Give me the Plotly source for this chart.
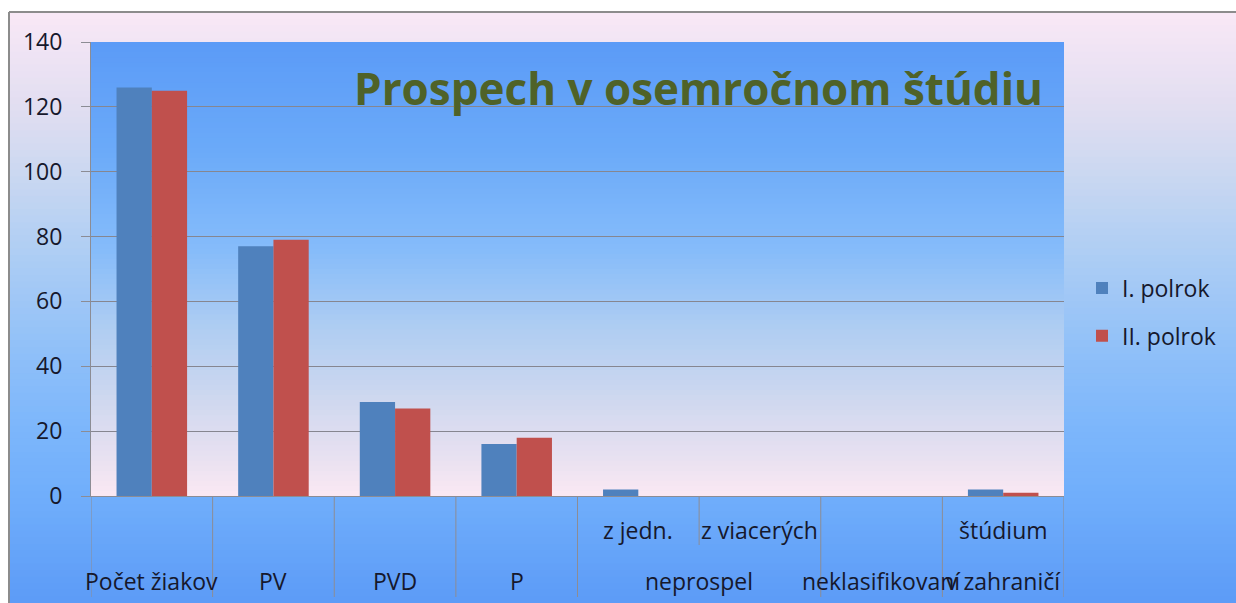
import plotly.graph_objects as go

# ---------------- data ----------------
categories = ["Počet žiakov", "PV", "PVD", "P", "z jedn.", "z viacerých",
              "neklasifikovaní", "štúdium v zahraničí"]
series_names = ["I. polrok", "II. polrok"]
values_I = [126, 77, 29, 16, 2, 0, 0, 2]
values_II = [125, 79, 27, 18, 0, 0, 0, 1]
upper_labels = ["", "", "", "", "z jedn.", "z viacerých", "", "štúdium"]
lower_labels = ["Počet žiakov", "PV", "PVD", "P", "neprospel", "neklasifikovaní", "v zahraničí"]
lower_spans = [(0, 0), (1, 1), (2, 2), (3, 3), (4, 5), (6, 6), (7, 7)]
y_ticks = [0, 20, 40, 60, 80, 100, 120, 140]
title_text = "Prospech v osemročnom štúdiu"

# ---------------- style ----------------
W, H = 1236, 603
PL, PR, PT, PB = 91, 1064, 42, 496      # plot area in page pixels
ML, MR, MT, MB = PL, W - PR, PT, H - PB
FONT = "Open Sans"
TXT = "#16182c"
GRID = "#868690"
AX = "#8C8C94"
C_I = "#4F81BD"
C_II = "#C0504D"

plot_w = W - ML - MR
plot_h = H - MT - MB


def px_x(x):   # page x -> paper x
    return (x - ML) / plot_w


def px_y(y):   # page y -> paper y
    return (H - MB - y) / plot_h


def hex2rgb(h):
    h = h.lstrip("#")
    return tuple(int(h[i:i + 2], 16) for i in (0, 2, 4))


def grad_color(stops, t):
    for (t0, c0), (t1, c1) in zip(stops, stops[1:]):
        if t0 <= t <= t1:
            f = (t - t0) / (t1 - t0) if t1 > t0 else 0
            a, b = hex2rgb(c0), hex2rgb(c1)
            return "rgb(%d,%d,%d)" % tuple(round(a[i] + (b[i] - a[i]) * f) for i in range(3))
    return stops[-1][1]


outer_stops = [(0.0, "#F9E8F6"), (0.157, "#E2DEF1"), (0.267, "#CCD8F1"), (0.377, "#B4D0F3"),
               (0.487, "#9FC7F6"), (0.597, "#8CBEF9"), (0.707, "#7CB6FB"), (0.819, "#70AEFB"),
               (1.0, "#5C9BF7")]
plot_stops = [(0.0, "#5B9BF7"), (0.24, "#6BAAF9"), (0.46, "#86BCFA"), (0.63, "#AFCDF2"),
              (0.79, "#CFD8EF"), (0.92, "#E9E1F1"), (1.0, "#FBE8F3")]

shapes = []
frame_top, frame_left = 12, 9
N = 90
for i in range(N):
    t0, t1 = i / N, (i + 1) / N
    y_top = frame_top + t0 * (H - frame_top)
    y_bot = frame_top + t1 * (H - frame_top) + 1
    shapes.append(dict(type="rect", xref="paper", yref="paper", layer="below",
                       x0=px_x(frame_left), x1=px_x(W + 30),
                       y0=px_y(y_bot), y1=px_y(y_top), line=dict(width=0),
                       fillcolor=grad_color(outer_stops, (t0 + t1) / 2)))

for i in range(N):
    t0, t1 = i / N, (i + 1) / N
    shapes.append(dict(type="rect", xref="x domain", yref="y domain", layer="below",
                       x0=0, x1=1, y0=1 - t1 - 0.002, y1=1 - t0,
                       line=dict(width=0),
                       fillcolor=grad_color(plot_stops, (t0 + t1) / 2)))

shapes.append(dict(type="line", xref="paper", yref="paper", layer="above",
                   x0=px_x(frame_left), x1=px_x(W + 30), y0=px_y(frame_top), y1=px_y(frame_top),
                   line=dict(color="#8C8C8C", width=2)))
shapes.append(dict(type="line", xref="paper", yref="paper", layer="above",
                   x0=px_x(frame_left), x1=px_x(frame_left), y0=px_y(frame_top), y1=px_y(H + 30),
                   line=dict(color="#8C8C8C", width=2)))

sep_full = px_y(597)
sep_half = px_y(545)
sub_group_inner = set()
for lo, hi in lower_spans:
    for k in range(lo, hi):
        sub_group_inner.add(k + 0.5)
for i in range(len(categories) + 1):
    xb = i - 0.5
    yb = sep_half if xb in sub_group_inner else sep_full
    shapes.append(dict(type="line", xref="x", yref="y domain", layer="above",
                       x0=xb, x1=xb, y0=0, y1=yb,
                       line=dict(color=AX, width=1)))

annotations = []
y_up = px_y(530)
y_low = px_y(581)
for i, lab in enumerate(upper_labels):
    if lab:
        annotations.append(dict(x=i, y=y_up, xref="x", yref="y domain", text=lab,
                                showarrow=False, xanchor="center", yanchor="middle",
                                font=dict(family=FONT, size=23, color=TXT)))
for lab, (lo, hi) in zip(lower_labels, lower_spans):
    annotations.append(dict(x=(lo + hi) / 2, y=y_low, xref="x", yref="y domain", text=lab,
                            showarrow=False, xanchor="center", yanchor="middle",
                            font=dict(family=FONT, size=23, color=TXT)))
annotations.append(dict(x=px_x(698), y=px_y(88), xref="paper", yref="paper",
                        text="<b>" + title_text + "</b>", showarrow=False,
                        xanchor="center", yanchor="middle",
                        font=dict(family=FONT, size=44, color="#4F6228")))

fig = go.Figure()
fig.add_trace(go.Bar(x=categories, y=values_I, name=series_names[0], marker_color=C_I,
                     marker_line_width=0, legendgroup="a"))
fig.add_trace(go.Bar(x=categories, y=values_II, name=series_names[1], marker_color=C_II,
                     marker_line_width=0, legendgroup="b"))

fig.update_layout(
    width=W, height=H,
    margin=dict(l=ML, r=MR, t=MT, b=MB, pad=0),
    paper_bgcolor="white",
    plot_bgcolor="rgba(0,0,0,0)",
    barmode="group", bargap=0.42, bargroupgap=0,
    showlegend=True,
    legend=dict(x=px_x(1082), xanchor="left",
                y=px_y(312), yanchor="middle",
                bgcolor="rgba(0,0,0,0)", font=dict(family=FONT, size=23, color=TXT),
                traceorder="grouped", tracegroupgap=15),
    shapes=shapes,
    annotations=annotations,
    font=dict(family=FONT, color=TXT),
)
fig.update_xaxes(type="category", categoryorder="array", categoryarray=categories,
                 range=[-0.5, len(categories) - 0.5],
                 showticklabels=False, showgrid=False, ticks="",
                 showline=True, linecolor=AX, linewidth=1, zeroline=False)
fig.update_yaxes(range=[0, 140], tickvals=y_ticks, ticks="outside", ticklen=9,
                 tickcolor=AX, ticklabelstandoff=14,
                 tickfont=dict(family=FONT, size=23, color=TXT),
                 showgrid=True, gridcolor=GRID, gridwidth=1,
                 showline=True, linecolor=AX, linewidth=1, zeroline=False)

fig.write_html("out.html",
               config={"displayModeBar": False},
               post_script="document.body.style.margin='0';"
                           "document.documentElement.style.overflow='hidden';"
                           "document.body.style.overflow='hidden';")
